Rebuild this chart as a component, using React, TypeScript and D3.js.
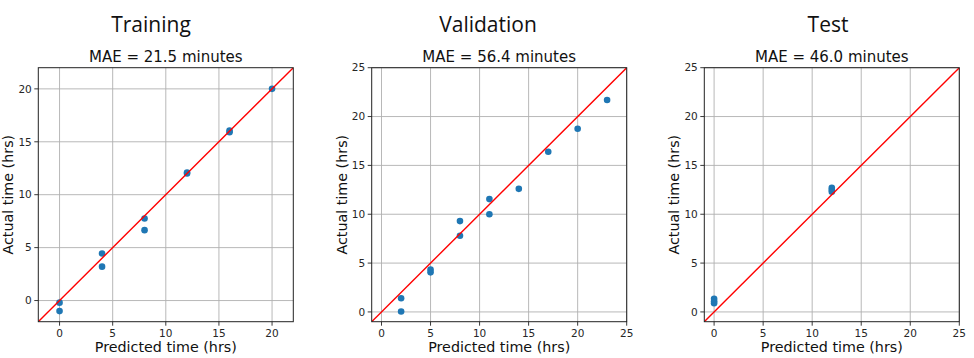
import React from "react";
import * as d3 from "d3";

const panelNames = ["Training", "Validation", "Test"];
const maeTitles = ["MAE = 21.5 minutes", "MAE = 56.4 minutes", "MAE = 46.0 minutes"];

const trainPred = [0, 0, 4, 4, 8, 8, 12, 12, 16, 16, 20];
const trainActual = [-0.2, -1.0, 4.45, 3.2, 7.75, 6.65, 12.0, 12.1, 16.05, 15.9, 20.0];

const valPred = [2, 2, 5, 5, 8, 8, 11, 11, 14, 17, 20, 23];
const valActual = [1.4, 0.05, 4.35, 4.05, 9.3, 7.8, 11.55, 10.0, 12.6, 16.4, 18.75, 21.7];

const testPred = [0, 0, 0, 12, 12, 12];
const testActual = [1.35, 1.1, 0.9, 12.7, 12.5, 12.3];

const trainDomain = [-2, 22];
const valDomain = [-1, 25];
const testDomain = [-1, 25];

const trainTicks = [0, 5, 10, 15, 20];
const valTicks = [0, 5, 10, 15, 20, 25];
const testTicks = [0, 5, 10, 15, 20, 25];

const panels = [
  { pred: trainPred, actual: trainActual, domain: trainDomain, ticks: trainTicks },
  { pred: valPred, actual: valActual, domain: valDomain, ticks: valTicks },
  { pred: testPred, actual: testActual, domain: testDomain, ticks: testTicks },
];

const W = 974;
const H = 358;
const plotLefts = [38.3, 371.7, 704.3];
const headerX = [151, 488, 828];
const plotTop = 67.7;
const plotW = 255;
const plotH = 254;

const dejavu = "'DejaVu Sans', sans-serif";

function Panel({ idx }: { idx: number }) {
  const p = panels[idx];
  const left = plotLefts[idx];
  const x = d3.scaleLinear().domain(p.domain).range([left, left + plotW]);
  const y = d3.scaleLinear().domain(p.domain).range([plotTop + plotH, plotTop]);
  const bottom = plotTop + plotH;
  const cx = left + plotW / 2;
  const line = d3.line<number>().x((d) => x(d)).y((d) => y(d));
  const clipId = `clip${idx}`;
  return (
    <g>
      <defs>
        <clipPath id={clipId}>
          <rect x={left} y={plotTop} width={plotW} height={plotH} />
        </clipPath>
      </defs>
      {p.ticks.map((t) => (
        <line key={"gx" + t} x1={x(t)} x2={x(t)} y1={plotTop} y2={bottom} stroke="#b0b0b0" strokeWidth={0.9} />
      ))}
      {p.ticks.map((t) => (
        <line key={"gy" + t} x1={left} x2={left + plotW} y1={y(t)} y2={y(t)} stroke="#b0b0b0" strokeWidth={0.9} />
      ))}
      <g clipPath={`url(#${clipId})`}>
        {p.pred.map((v, i) => (
          <circle key={"c" + i} cx={x(v)} cy={y(p.actual[i])} r={3.3} fill="#1f77b4" />
        ))}
        <path d={line(p.domain) || ""} stroke="red" strokeWidth={1.4} fill="none" />
      </g>
      <rect x={left} y={plotTop} width={plotW} height={plotH} fill="none" stroke="#222" strokeWidth={1} />
      {p.ticks.map((t) => (
        <g key={"tx" + t}>
          <line x1={x(t)} x2={x(t)} y1={bottom} y2={bottom + 4} stroke="#222" strokeWidth={0.9} />
          <text x={x(t)} y={bottom + 15.5} textAnchor="middle" fontFamily={dejavu} fontSize={10.5} fill="#262626">
            {t}
          </text>
        </g>
      ))}
      {p.ticks.map((t) => (
        <g key={"ty" + t}>
          <line x1={left - 4} x2={left} y1={y(t)} y2={y(t)} stroke="#222" strokeWidth={0.9} />
          <text x={left - 6.5} y={y(t)} dy="0.36em" textAnchor="end" fontFamily={dejavu} fontSize={10.5} fill="#262626">
            {t}
          </text>
        </g>
      ))}
      <text x={cx} y={bottom + 30.5} textAnchor="middle" fontFamily={dejavu} fontSize={14.3} fill="#111">
        Predicted time (hrs)
      </text>
      <text
        transform={`translate(${left - 25},${plotTop + plotH / 2}) rotate(-90)`}
        textAnchor="middle"
        fontFamily={dejavu}
        fontSize={14.3}
        fill="#111"
      >
        Actual time (hrs)
      </text>
      <text x={cx} y={plotTop - 6} textAnchor="middle" fontFamily={dejavu} fontSize={15} fill="#111">
        {maeTitles[idx]}
      </text>
      <text x={headerX[idx]} y={31.5} textAnchor="middle" fontFamily="'Open Sans', sans-serif" fontSize={21} fill="#111">
        {panelNames[idx]}
      </text>
    </g>
  );
}

export default function App() {
  return (
    <svg
      width={W}
      height={H}
      style={{ position: "absolute", left: 0, top: 0, background: "#fff" }}
    >
      <rect x={0} y={0} width={W} height={H} fill="#fff" />
      {panels.map((_, i) => (
        <Panel key={i} idx={i} />
      ))}
    </svg>
  );
}
